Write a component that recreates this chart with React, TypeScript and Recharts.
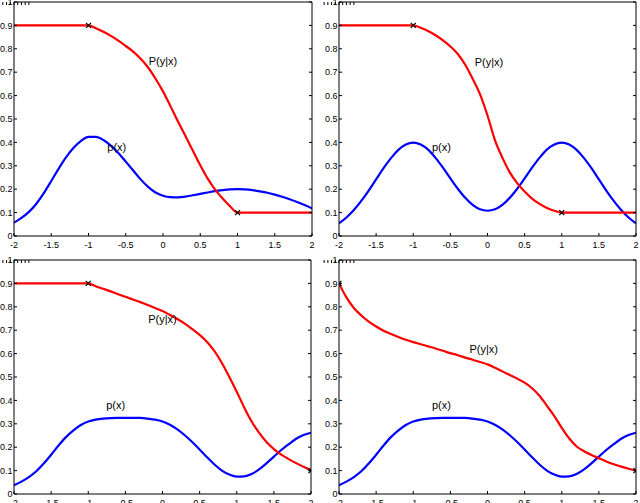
import React from 'react';
import { ComposedChart, Line, XAxis, YAxis, Scatter, ReferenceDot } from 'recharts';

const xGrid = [
  -2, -1.9, -1.8, -1.7, -1.6, -1.5, -1.4, -1.3, -1.2, -1.1, -1, -0.9, -0.8, -0.7, -0.6, -0.5, -0.4, -0.3, -0.2, -0.1,
  0, 0.1, 0.2, 0.3, 0.4, 0.5, 0.6, 0.7, 0.8, 0.9, 1, 1.1, 1.2, 1.3, 1.4, 1.5, 1.6, 1.7, 1.8, 1.9, 2,
];
const xTicks = [-2, -1.5, -1, -0.5, 0, 0.5, 1, 1.5, 2];
const yTicks = [0, 0.1, 0.2, 0.3, 0.4, 0.5, 0.6, 0.7, 0.8, 0.9, 1];

// top-left panel
const pTopLeft = [0.057, 0.077, 0.103, 0.138, 0.183, 0.235, 0.288, 0.337, 0.377, 0.407, 0.424, 0.424, 0.41, 0.386, 0.355, 0.318, 0.28, 0.242, 0.21, 0.186, 0.172, 0.166, 0.165, 0.168, 0.174, 0.18, 0.186, 0.192, 0.196, 0.199, 0.2, 0.199, 0.196, 0.191, 0.185, 0.177, 0.168, 0.157, 0.145, 0.132, 0.118];
const condTopLeft = [0.9, 0.9, 0.9, 0.9, 0.9, 0.9, 0.9, 0.9, 0.9, 0.9, 0.9, 0.888, 0.873, 0.855, 0.835, 0.812, 0.788, 0.757, 0.72, 0.672, 0.618, 0.555, 0.49, 0.428, 0.365, 0.302, 0.245, 0.198, 0.16, 0.127, 0.1, 0.1, 0.1, 0.1, 0.1, 0.1, 0.1, 0.1, 0.1, 0.1, 0.1];
const marksTopLeft = [{ x: -1, y: 0.9 }, { x: 1, y: 0.1 }];

// top-right panel
const pTopRight = [0.054, 0.079, 0.111, 0.15, 0.194, 0.242, 0.29, 0.333, 0.368, 0.391, 0.399, 0.391, 0.369, 0.334, 0.292, 0.246, 0.202, 0.163, 0.133, 0.114, 0.108, 0.114, 0.133, 0.163, 0.202, 0.246, 0.292, 0.334, 0.369, 0.391, 0.399, 0.391, 0.368, 0.333, 0.29, 0.242, 0.194, 0.15, 0.111, 0.079, 0.054];
const condTopRight = [0.9, 0.9, 0.9, 0.9, 0.9, 0.9, 0.9, 0.9, 0.9, 0.9, 0.9, 0.89, 0.876, 0.858, 0.836, 0.81, 0.778, 0.732, 0.672, 0.605, 0.515, 0.41, 0.335, 0.272, 0.226, 0.19, 0.16, 0.137, 0.12, 0.108, 0.1, 0.1, 0.1, 0.1, 0.1, 0.1, 0.1, 0.1, 0.1, 0.1, 0.1];
const marksTopRight = [{ x: -1, y: 0.9 }, { x: 1, y: 0.1 }];

// bottom panels share p(x)
const pBottom = [0.037, 0.053, 0.072, 0.097, 0.13, 0.168, 0.207, 0.243, 0.272, 0.295, 0.31, 0.318, 0.322, 0.324, 0.325, 0.325, 0.325, 0.325, 0.322, 0.318, 0.31, 0.296, 0.276, 0.251, 0.222, 0.19, 0.157, 0.126, 0.1, 0.083, 0.074, 0.075, 0.085, 0.105, 0.131, 0.16, 0.188, 0.213, 0.236, 0.252, 0.262];
const condBottomLeft = [0.9, 0.9, 0.9, 0.9, 0.9, 0.9, 0.9, 0.9, 0.9, 0.9, 0.9, 0.888, 0.877, 0.866, 0.854, 0.843, 0.831, 0.82, 0.808, 0.795, 0.782, 0.765, 0.748, 0.728, 0.705, 0.68, 0.65, 0.611, 0.56, 0.5, 0.437, 0.37, 0.31, 0.262, 0.222, 0.192, 0.168, 0.149, 0.132, 0.116, 0.1];
const marksBottomLeft = [{ x: -1, y: 0.9 }, { x: 2, y: 0.1 }];
const condBottomRight = [0.9, 0.84, 0.795, 0.763, 0.737, 0.716, 0.698, 0.684, 0.671, 0.659, 0.649, 0.64, 0.631, 0.622, 0.612, 0.602, 0.593, 0.583, 0.574, 0.564, 0.554, 0.54, 0.524, 0.509, 0.493, 0.476, 0.452, 0.42, 0.377, 0.333, 0.283, 0.238, 0.203, 0.183, 0.167, 0.153, 0.139, 0.127, 0.117, 0.108, 0.1];
const marksBottomRight = [{ x: -2, y: 0.9 }, { x: 2, y: 0.1 }];

const FONT = '"Liberation Sans", Arial, Helvetica, sans-serif';
const TICK = 3;
const TICK_FONT = 9;

const BottomTick = (props: any) => {
  const { x, y, payload } = props;
  return (
    <g>
      <line x1={x} y1={y} x2={x} y2={y - TICK} stroke="#000" strokeWidth={1} />
      <text x={x} y={y + 11.5} textAnchor="middle" fontSize={TICK_FONT} fontFamily={FONT} fill="#000">{String(payload.value)}</text>
    </g>
  );
};
const TopTick = (props: any) => {
  const { x, y } = props;
  return <line x1={x} y1={y} x2={x} y2={y + TICK} stroke="#000" strokeWidth={1} />;
};
const LeftTick = (props: any) => {
  const { x, y, payload } = props;
  return (
    <g>
      <line x1={x} y1={y} x2={x + TICK} y2={y} stroke="#000" strokeWidth={1} />
      <text x={x - 1.5} y={y} dy="0.36em" textAnchor="end" fontSize={TICK_FONT} fontFamily={FONT} fill="#000">{String(payload.value)}</text>
    </g>
  );
};
const RightTick = (props: any) => {
  const { x, y } = props;
  return <line x1={x} y1={y} x2={x - TICK} y2={y} stroke="#000" strokeWidth={1} />;
};

const CrossMark = (props: any) => {
  const { cx, cy } = props;
  const s = 2.5;
  return (
    <g>
      <line x1={cx - s} y1={cy - s} x2={cx + s} y2={cy + s} stroke="#000" strokeWidth={1.3} />
      <line x1={cx - s} y1={cy + s} x2={cx + s} y2={cy - s} stroke="#000" strokeWidth={1.3} />
    </g>
  );
};

const makeLabel = (text: string) => (props: any) => (
  <text x={props.cx} y={props.cy} dy="0.36em" textAnchor="middle" fontSize={11} fontFamily={FONT} fill="#000">{text}</text>
);

type PanelProps = {
  left: number; top: number; width: number; height: number;
  margin: { top: number; right: number; bottom: number; left: number };
  p: number[]; cond: number[]; marks: { x: number; y: number }[];
  condLabel: { x: number; y: number }; pLabel: { x: number; y: number };
};

const Panel = ({ left, top, width, height, margin, p, cond, marks, condLabel, pLabel }: PanelProps) => {
  const rows = xGrid.map((x, i) => ({ x, p: p[i], cond: cond[i] }));
  // axes take 1px each, so shrink the margins accordingly
  const m = { top: margin.top - 1, right: margin.right - 1, bottom: margin.bottom - 1, left: margin.left - 1 };
  return (
    <div style={{ position: 'absolute', left, top, width, height }}>
      <ComposedChart width={width} height={height} data={rows} margin={m} style={{ overflow: 'visible' }}>
        <XAxis dataKey="x" type="number" domain={[-2, 2]} ticks={xTicks} interval={0} height={1} tickSize={0} tickMargin={0} tickLine={false} axisLine={{ stroke: '#000' }} tick={<BottomTick />} allowDataOverflow />
        <XAxis xAxisId="top" orientation="top" type="number" domain={[-2, 2]} ticks={xTicks} interval={0} height={1} tickSize={0} tickMargin={0} tickLine={false} axisLine={{ stroke: '#000' }} tick={<TopTick />} allowDataOverflow />
        <YAxis type="number" domain={[0, 1]} ticks={yTicks} interval={0} width={1} tickSize={0} tickMargin={0} tickLine={false} axisLine={{ stroke: '#000' }} tick={<LeftTick />} allowDataOverflow />
        <YAxis yAxisId="right" orientation="right" type="number" domain={[0, 1]} ticks={yTicks} interval={0} width={1} tickSize={0} tickMargin={0} tickLine={false} axisLine={{ stroke: '#000' }} tick={<RightTick />} allowDataOverflow />
        <Line dataKey="p" type="monotone" stroke="#0000ff" strokeWidth={2.2} dot={false} isAnimationActive={false} />
        <Line dataKey="cond" type="monotone" stroke="#ff0000" strokeWidth={2.2} dot={false} isAnimationActive={false} />
        <Scatter data={marks} dataKey="y" shape={<CrossMark />} isAnimationActive={false} />
        <ReferenceDot x={condLabel.x} y={condLabel.y} r={1} shape={makeLabel('P(y|x)')} />
        <ReferenceDot x={pLabel.x} y={pLabel.y} r={1} shape={makeLabel('p(x)')} />
      </ComposedChart>
    </div>
  );
};

export default function App() {
  return (
    <div style={{ position: 'absolute', left: 0, top: 0, width: 640, height: 503, background: '#fff', overflow: 'hidden' }}>
      <Panel left={0} top={0} width={320} height={250} margin={{ top: 2, left: 14, right: 8, bottom: 14 }}
        p={pTopLeft} cond={condTopLeft} marks={marksTopLeft} condLabel={{ x: 0, y: 0.747 }} pLabel={{ x: -0.62, y: 0.38 }} />
      <Panel left={320} top={0} width={320} height={250} margin={{ top: 2, left: 19, right: 4, bottom: 14 }}
        p={pTopRight} cond={condTopRight} marks={marksTopRight} condLabel={{ x: 0.02, y: 0.744 }} pLabel={{ x: -0.62, y: 0.38 }} />
      <Panel left={0} top={250} width={320} height={253} margin={{ top: 10, left: 14, right: 9, bottom: 9 }}
        p={pBottom} cond={condBottomLeft} marks={marksBottomLeft} condLabel={{ x: 0.0, y: 0.747 }} pLabel={{ x: -0.63, y: 0.38 }} />
      <Panel left={320} top={250} width={320} height={253} margin={{ top: 10, left: 19, right: 4, bottom: 9 }}
        p={pBottom} cond={condBottomRight} marks={marksBottomRight} condLabel={{ x: -0.05, y: 0.619 }} pLabel={{ x: -0.62, y: 0.38 }} />
    </div>
  );
}
